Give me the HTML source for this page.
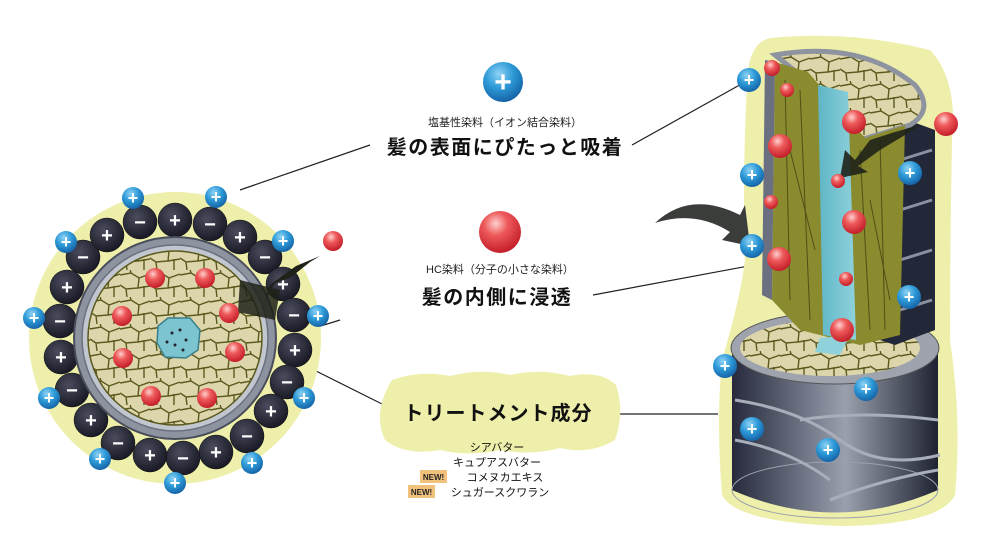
<!DOCTYPE html>
<html><head><meta charset="utf-8"><style>
html,body{margin:0;padding:0;background:#fff;width:1000px;height:560px;overflow:hidden}
svg{display:block}
text{font-family:"Liberation Sans","Noto Sans CJK JP",sans-serif}
</style></head><body>
<svg width="1000" height="560" viewBox="0 0 1000 560" xmlns="http://www.w3.org/2000/svg">
<defs>
<radialGradient id="blue" cx="40%" cy="30%" r="70%"><stop offset="0" stop-color="#8fd3f5"/><stop offset="0.5" stop-color="#2e9ad8"/><stop offset="1" stop-color="#1565a8"/></radialGradient>
<radialGradient id="red" cx="40%" cy="30%" r="70%"><stop offset="0" stop-color="#ffd0d0"/><stop offset="0.4" stop-color="#ee5a5a"/><stop offset="1" stop-color="#c41e2a"/></radialGradient>
<radialGradient id="dark" cx="40%" cy="35%" r="70%"><stop offset="0" stop-color="#4a4c5e"/><stop offset="1" stop-color="#151620"/></radialGradient>
<linearGradient id="cyl" x1="0" x2="1"><stop offset="0" stop-color="#262a3c"/><stop offset="0.4" stop-color="#7a8090"/><stop offset="0.55" stop-color="#9aa0ad"/><stop offset="1" stop-color="#1e2232"/></linearGradient>
<linearGradient id="med" x1="0" x2="1"><stop offset="0" stop-color="#5fb6c6"/><stop offset="1" stop-color="#8fd2dc"/></linearGradient>
<pattern id="cells" width="30" height="27" patternUnits="userSpaceOnUse"><rect width="30" height="27" fill="#ddd6ac"/><path d="M0 5 L11 3 L19 8 L30 4 M11 3 L10 -1 M19 8 L18 18 L6 19 L0 15 M18 18 L30 16 M6 19 L7 27 M24 16 L24 27" stroke="#5a5a1e" stroke-width="1.4" fill="none"/></pattern>
</defs>

<g stroke="#222" stroke-width="1.2" fill="none">
<line x1="240" y1="190" x2="370" y2="145"/>
<line x1="632" y1="145" x2="745" y2="82"/>
<line x1="253" y1="347" x2="340" y2="320"/>
<line x1="316" y1="371" x2="392" y2="409"/>
<line x1="593" y1="295" x2="770" y2="262"/>
<line x1="608" y1="414" x2="718" y2="414"/>
</g>

<circle cx="175" cy="338" r="146" fill="#eeefaa"/>
<g fill="url(#dark)" stroke="#111" stroke-width="0.5">
<circle cx="175" cy="220" r="17"/><circle cx="210" cy="224" r="17"/><circle cx="240" cy="237" r="17"/><circle cx="265" cy="257" r="17"/><circle cx="283" cy="284" r="17"/><circle cx="294" cy="315" r="17"/><circle cx="295" cy="350" r="17"/><circle cx="287" cy="382" r="17"/><circle cx="271" cy="411" r="17"/><circle cx="247" cy="436" r="17"/><circle cx="216" cy="452" r="17"/><circle cx="183" cy="458" r="17"/><circle cx="150" cy="455" r="17"/><circle cx="118" cy="443" r="17"/><circle cx="91" cy="420" r="17"/><circle cx="72" cy="390" r="17"/><circle cx="61" cy="357" r="17"/><circle cx="60" cy="321" r="17"/><circle cx="67" cy="287" r="17"/><circle cx="83" cy="257" r="17"/><circle cx="107" cy="235" r="17"/><circle cx="140" cy="222" r="17"/>
</g>
<g fill="#fff" font-size="20" font-weight="bold" text-anchor="middle">
<text x="175" y="227">+</text><text x="210" y="231">−</text><text x="240" y="244">+</text><text x="265" y="264">−</text><text x="283" y="291">+</text><text x="294" y="322">−</text><text x="295" y="357">+</text><text x="287" y="389">−</text><text x="271" y="418">+</text><text x="247" y="443">−</text><text x="216" y="459">+</text><text x="183" y="465">−</text><text x="150" y="462">+</text><text x="118" y="450">−</text><text x="91" y="427">+</text><text x="72" y="397">−</text><text x="61" y="364">+</text><text x="60" y="328">−</text><text x="67" y="294">+</text><text x="83" y="264">−</text><text x="107" y="242">+</text><text x="140" y="229">−</text>
</g>
<circle cx="175" cy="338" r="101" fill="#8e93a0" stroke="#4a4e5c" stroke-width="2"/>
<circle cx="175" cy="338" r="93" fill="#c2c6cf" stroke="#6b7080" stroke-width="1.5"/>
<circle cx="175" cy="338" r="87" fill="url(#cells)" stroke="#5a5a1e" stroke-width="1.5"/>
<polygon points="168,318 190,318 200,330 198,350 186,358 165,357 157,343 158,326" fill="#7cc4cf" stroke="#3b7f8c" stroke-width="1.5"/>
<g fill="#223"><circle cx="172" cy="333" r="1.5"/><circle cx="180" cy="330" r="1.5"/><circle cx="186" cy="340" r="1.5"/><circle cx="175" cy="345" r="1.5"/><circle cx="167" cy="342" r="1.5"/><circle cx="183" cy="350" r="1.5"/></g>
<path d="M240 280 L280 290 L275 320 L238 312 Z" fill="#1e2218" opacity="0.85"/>
<path d="M265 300 L275 283 L290 278 L300 270 L310 262 L320 256 L296 266 L285 274 L270 285 Z" fill="#1e2218"/>
<g fill="url(#red)">
<circle cx="155" cy="278" r="10"/><circle cx="205" cy="278" r="10"/><circle cx="122" cy="316" r="10"/><circle cx="229" cy="313" r="10"/><circle cx="123" cy="358" r="10"/><circle cx="235" cy="352" r="10"/><circle cx="151" cy="396" r="10"/><circle cx="207" cy="398" r="10"/><circle cx="333" cy="241" r="10"/>
</g>
<g fill="url(#blue)">
<circle cx="133" cy="198" r="11"/><circle cx="216" cy="197" r="11"/><circle cx="66" cy="242" r="11"/><circle cx="283" cy="241" r="11"/><circle cx="34" cy="318" r="11"/><circle cx="318" cy="316" r="11"/><circle cx="49" cy="398" r="11"/><circle cx="304" cy="398" r="11"/><circle cx="100" cy="459" r="11"/><circle cx="252" cy="463" r="11"/><circle cx="175" cy="483" r="11"/>
</g>
<g fill="#fff" font-size="18" font-weight="bold" text-anchor="middle">
<text x="133" y="204">+</text><text x="216" y="203">+</text><text x="66" y="248">+</text><text x="283" y="247">+</text><text x="34" y="324">+</text><text x="318" y="322">+</text><text x="49" y="404">+</text><text x="304" y="404">+</text><text x="100" y="465">+</text><text x="252" y="469">+</text><text x="175" y="489">+</text>
</g>

<circle cx="503" cy="82" r="20" fill="url(#blue)"/>
<text x="503" y="92" fill="#fff" font-size="30" font-weight="bold" text-anchor="middle">+</text>
<text x="505" y="126" font-size="11" text-anchor="middle" fill="#222">塩基性染料（イオン結合染料）</text>
<text x="505" y="154" font-size="20" font-weight="bold" text-anchor="middle" fill="#111" letter-spacing="1.5">髪の表面にぴたっと吸着</text>
<circle cx="500" cy="232" r="21" fill="url(#red)"/>
<text x="500" y="273" font-size="11" text-anchor="middle" fill="#222">HC染料（分子の小さな染料）</text>
<text x="497" y="304" font-size="20" font-weight="bold" text-anchor="middle" fill="#111" letter-spacing="1.5">髪の内側に浸透</text>

<path d="M392 380 Q420 370 450 376 Q480 368 510 375 Q540 368 570 376 Q600 370 616 385 Q625 412 615 440 Q590 455 560 448 Q530 456 500 450 Q470 457 440 450 Q405 456 385 440 Q372 412 392 380 Z" fill="#eeefaa"/>
<text x="498" y="420" font-size="20" font-weight="bold" text-anchor="middle" fill="#111" letter-spacing="1">トリートメント成分</text>
<g font-size="11" fill="#111" text-anchor="middle">
<text x="497" y="451">シアバター</text>
<text x="497" y="466">キュプアスバター</text>
<text x="505" y="481">コメヌカエキス</text>
<text x="500" y="496">シュガースクワラン</text>
</g>
<rect x="420" y="470" width="27" height="13" fill="#f2c27d"/><text x="433.5" y="480" font-size="8" font-weight="bold" text-anchor="middle" fill="#222">NEW!</text>
<rect x="408" y="485" width="27" height="13" fill="#f2c27d"/><text x="421.5" y="495" font-size="8" font-weight="bold" text-anchor="middle" fill="#222">NEW!</text>

<path d="M770 38 Q850 30 930 50 Q958 80 952 140 Q950 250 950 340 Q962 420 955 495 Q940 525 840 526 Q735 522 722 495 Q716 420 722 360 Q740 300 745 260 Q742 160 748 70 Q752 42 770 38 Z" fill="#eeefaa"/>
<path d="M732 350 L732 490 Q835 535 938 490 L938 350 Z" fill="url(#cyl)"/>
<ellipse cx="835" cy="490" rx="103" ry="28" fill="none" stroke="#9aa0ad" stroke-width="1"/>
<path d="M735 400 Q800 410 840 440 Q880 470 940 455 M735 440 Q790 450 830 480 M800 420 Q860 410 938 420 M830 500 Q880 480 938 470" stroke="#a8aeba" stroke-width="3" fill="none"/>
<ellipse cx="835" cy="348" rx="104" ry="36" fill="#9ea3ae" stroke="#555" stroke-width="1"/>
<ellipse cx="830" cy="348" rx="90" ry="28" fill="url(#cells)"/>
<path d="M880 110 L935 130 L935 330 L895 345 L880 340 Z" fill="#232838"/>
<path d="M900 160 L932 150 M900 210 L932 200 M900 260 L932 250 M900 310 L932 300" stroke="#8a90a0" stroke-width="3"/>
<path d="M775 55 Q860 40 915 85 Q935 110 910 125 L860 140 L800 75 Z" fill="url(#cells)" stroke="#8e93a0" stroke-width="5"/>
<path d="M775 62 L808 72 L865 138 L905 125 L900 335 L860 345 L800 330 L772 300 Z" fill="#8a8a2e"/>
<path d="M785 80 L790 300 M800 90 L810 320 M860 150 L870 330 M880 140 L885 330 M790 150 L815 250 M870 200 L890 300" stroke="#4e5018" stroke-width="1" fill="none"/>
<path d="M818 85 L848 92 L856 340 L823 335 Z" fill="url(#med)"/>
<path d="M820 338 L850 335 L840 355 L815 352 Z" fill="#8fd2dc"/>
<path d="M765 60 L775 62 L772 300 L762 295 Z" fill="#6b7080"/>
<path d="M920 125 L895 132 L870 140 L855 160 L845 150 L840 178 L868 172 L858 166 L880 150 L905 135 Z" fill="#1e2218" opacity="0.9"/>
<path d="M655 223 Q690 190 740 215 L745 205 L750 246 L722 240 L730 232 Q695 210 655 223 Z" fill="#3a3d3a"/>
<g fill="url(#red)">
<circle cx="772" cy="68" r="8"/><circle cx="787" cy="90" r="7"/><circle cx="780" cy="146" r="12"/><circle cx="854" cy="122" r="12"/><circle cx="946" cy="124" r="12"/><circle cx="771" cy="202" r="7"/><circle cx="838" cy="181" r="7"/><circle cx="854" cy="222" r="12"/><circle cx="779" cy="259" r="12"/><circle cx="846" cy="279" r="7"/><circle cx="842" cy="330" r="12"/>
</g>
<g fill="url(#blue)">
<circle cx="749" cy="80" r="12"/><circle cx="752" cy="175" r="12"/><circle cx="910" cy="173" r="12"/><circle cx="752" cy="246" r="12"/><circle cx="909" cy="297" r="12"/><circle cx="725" cy="366" r="12"/><circle cx="866" cy="389" r="12"/><circle cx="752" cy="429" r="12"/><circle cx="828" cy="450" r="12"/>
</g>
<g fill="#fff" font-size="18" font-weight="bold" text-anchor="middle">
<text x="749" y="86">+</text><text x="752" y="181">+</text><text x="910" y="179">+</text><text x="752" y="252">+</text><text x="909" y="303">+</text><text x="725" y="372">+</text><text x="866" y="395">+</text><text x="752" y="435">+</text><text x="828" y="456">+</text>
</g>
</svg>
</body></html>
